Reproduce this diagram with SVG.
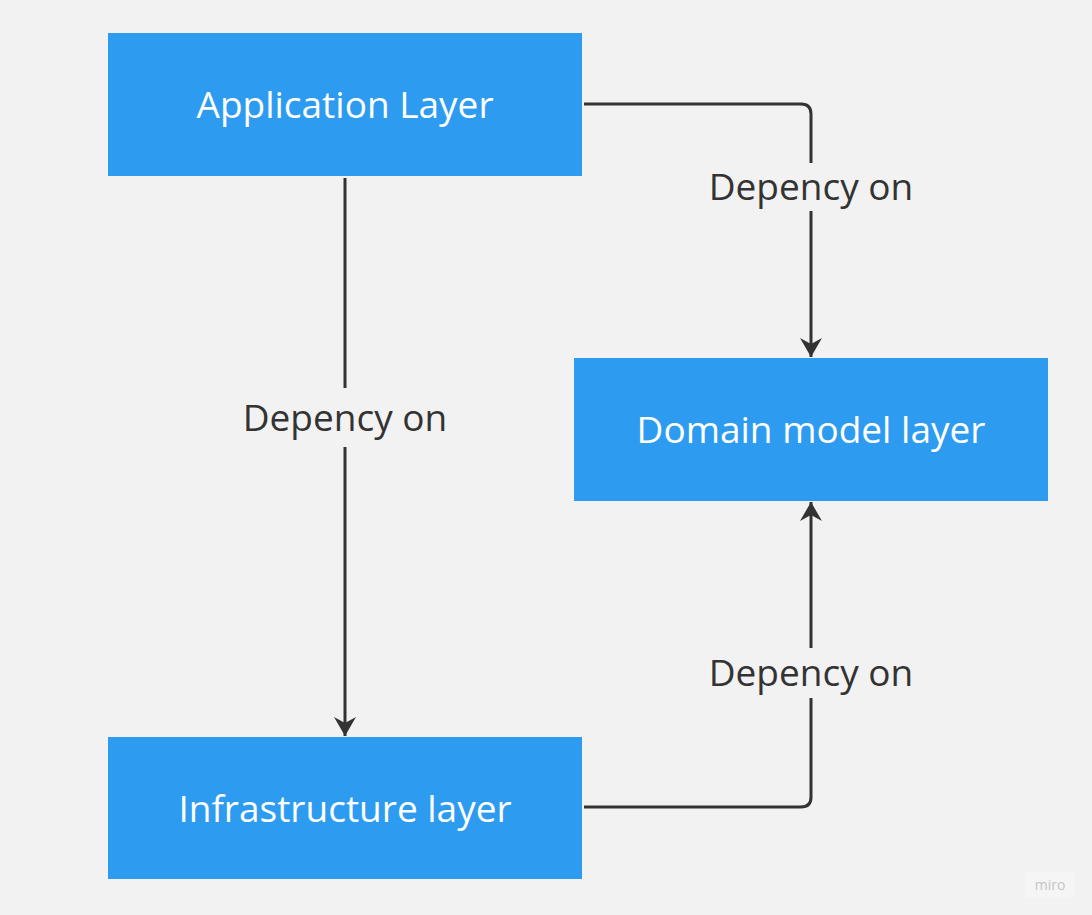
<svg xmlns="http://www.w3.org/2000/svg" width="1092" height="915" viewBox="0 0 1092 915">
<style>
.node{fill:#2d9bf0}
.ntext{fill:#ffffff;font-family:"Open Sans","Noto Sans",sans-serif;font-size:37px;text-anchor:middle}
.edge{fill:none;stroke:#333333;stroke-width:3}
.etext{fill:#333333;font-family:"Open Sans","Noto Sans",sans-serif;font-size:37px;text-anchor:middle}
</style>
<defs>
<marker id="ah" markerUnits="userSpaceOnUse" viewBox="-20 -12 22 24" refX="0" refY="0" markerWidth="22" markerHeight="24" orient="auto">
<path d="M0,0 L-19,-11 L-13,0 L-19,11 Z" fill="#333333"/>
</marker>
</defs>
<rect width="1092" height="915" fill="#f2f2f2"/>
<g id="connectors">
<path class="edge" d="M584,104 H801 Q811,104 811,114 V163"/>
<path class="edge" d="M811,211 V357" marker-end="url(#ah)"/>
<path class="edge" d="M345,178 V388"/>
<path class="edge" d="M345,447 V736" marker-end="url(#ah)"/>
<path class="edge" d="M584,807 H801 Q811,807 811,797 V698"/>
<path class="edge" d="M811,648 V502" marker-end="url(#ah)"/>
<text class="etext" x="811" y="200">Depency on</text>
<text class="etext" x="345" y="431">Depency on</text>
<text class="etext" x="811" y="686">Depency on</text>
</g>
<g id="app">
<rect class="node" x="108" y="33" width="474" height="143"/>
<text class="ntext" x="345" y="118">Application Layer</text>
</g>
<g id="domain">
<rect class="node" x="574" y="358" width="474" height="143"/>
<text class="ntext" x="811" y="443">Domain model layer</text>
</g>
<g id="infra">
<rect class="node" x="108" y="737" width="474" height="142"/>
<text class="ntext" x="345" y="822">Infrastructure layer</text>
</g>
<g id="watermark">
<rect x="1025" y="872" width="50" height="26" rx="3" fill="#f5f5f5"/>
<text x="1050" y="890" font-family="Open Sans, sans-serif" font-size="14" fill="#c4c4c8" text-anchor="middle">miro</text>
</g>
</svg>
